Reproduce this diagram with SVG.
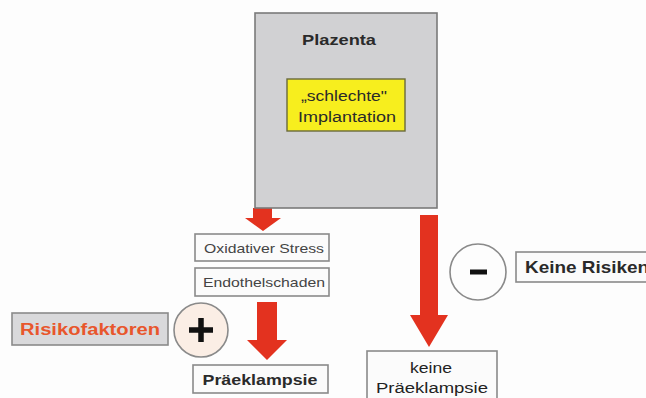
<svg xmlns="http://www.w3.org/2000/svg" width="646" height="398" viewBox="0 0 646 398">
<style>
.box{fill:#fbfbfb;stroke:#8a8a8a;stroke-width:1.6}
.t{font-family:"Liberation Sans",Arial,sans-serif;fill:#2a2a2a;text-anchor:middle}
.b{font-weight:bold}
.arr{fill:#e3321f}
</style>
<rect width="646" height="398" fill="#fdfdfd"/>
<g id="connectors">
<polygon class="arr" points="253,208 272,208 272,218 281,218 263,231 245,218 253,218"/>
<polygon class="arr" points="257,302 277,302 277,340 287,340 267,360 247,340 257,340"/>
<polygon class="arr" points="420,215 438,215 438,315 448,315 429,347 410,315 420,315"/>
</g>
<g id="plazenta">
<rect x="255" y="13" width="182" height="195" fill="#d1d1d3" stroke="#7a7a7a" stroke-width="1.6"/>
<text class="t b" x="339" y="45" font-size="15" textLength="74" lengthAdjust="spacingAndGlyphs">Plazenta</text>
</g>
<g id="implantation">
<rect x="287" y="79" width="118" height="52" fill="#f7ee1e" stroke="#6a6a3a" stroke-width="1.4"/>
<text class="t" x="344" y="101" font-size="14" textLength="86" lengthAdjust="spacingAndGlyphs">„schlechte"</text>
<text class="t" x="347" y="122" font-size="14" textLength="98" lengthAdjust="spacingAndGlyphs">Implantation</text>
</g>
<g id="oxidativer-stress">
<rect class="box" x="195" y="234" width="134" height="27"/>
<text class="t" x="264" y="253" font-size="13" style="fill:#444" textLength="120" lengthAdjust="spacingAndGlyphs">Oxidativer Stress</text>
</g>
<g id="endothelschaden">
<rect class="box" x="195" y="268" width="134" height="28"/>
<text class="t" x="264" y="287" font-size="13" style="fill:#444" textLength="122" lengthAdjust="spacingAndGlyphs">Endothelschaden</text>
</g>
<g id="risikofaktoren">
<rect x="12" y="313" width="156" height="32" fill="#d9d9db" stroke="#8a8a8a" stroke-width="1.6"/>
<text class="t b" x="90" y="335" font-size="16" style="fill:#e8562c" textLength="140" lengthAdjust="spacingAndGlyphs">Risikofaktoren</text>
</g>
<g id="plus">
<circle cx="201" cy="330" r="27" fill="#fbeee5" stroke="#8a8a8a" stroke-width="1.6"/>
<path d="M189,330 H213 M201,318 V342" stroke="#111" stroke-width="5.5" fill="none"/>
</g>
<g id="praeeklampsie">
<rect class="box" x="193" y="365" width="135" height="28"/>
<text class="t b" x="260" y="385" font-size="15" textLength="115" lengthAdjust="spacingAndGlyphs">Präeklampsie</text>
</g>
<g id="minus">
<circle cx="478" cy="272" r="28" fill="#fdfdfd" stroke="#8a8a8a" stroke-width="1.6"/>
<path d="M470,272 H487" stroke="#111" stroke-width="5" fill="none"/>
</g>
<g id="keine-risiken">
<rect class="box" x="516" y="252" width="140" height="30"/>
<text class="t b" x="525" y="273" font-size="17" style="text-anchor:start" textLength="124" lengthAdjust="spacingAndGlyphs">Keine Risiken</text>
</g>
<g id="keine-praeeklampsie">
<rect class="box" x="367" y="351" width="130" height="60"/>
<text class="t" x="431" y="373" font-size="14" style="fill:#222" textLength="42" lengthAdjust="spacingAndGlyphs">keine</text>
<text class="t" x="432" y="393" font-size="14" style="fill:#222" textLength="112" lengthAdjust="spacingAndGlyphs">Präeklampsie</text>
</g>
</svg>
